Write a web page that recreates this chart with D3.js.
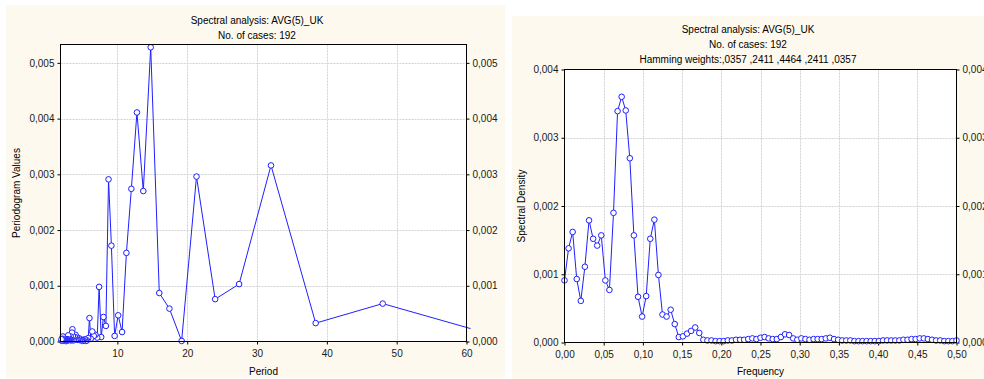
<!DOCTYPE html>
<html>
<head>
<meta charset="utf-8">
<script src="https://cdn.jsdelivr.net/npm/d3@7"></script>
<style>
  body { margin: 0; background: #ffffff; }
  svg { display: block; font-family: "Liberation Sans", Arial, sans-serif; }
</style>
</head>
<body>
<div id="chart"></div>
<script>
// Two STATISTICA style spectral plots, drawn side by side

// Periodogram (left): period for each harmonic and its value
const periods = [192, 96, 64, 48, 38.4, 32, 27.43, 24, 21.33, 19.2, 17.45, 16, 14.77, 13.71, 12.8, 12,
    11.29, 10.67, 10.11, 9.6, 9.14, 8.73, 8.35, 8, 7.68, 7.38, 7.11, 6.86, 6.62, 6.4, 6.19, 6,
    5.82, 5.65, 5.49, 5.33, 5.19, 5.05, 4.92, 4.8, 4.68, 4.57, 4.47, 4.36, 4.27, 4.17, 4.09, 4,
    3.92, 3.84, 3.76, 3.69, 3.62, 3.56, 3.49, 3.43, 3.37, 3.31, 3.25, 3.2, 3.15, 3.1, 3.05, 3,
    2.95, 2.91, 2.87, 2.82, 2.78, 2.74, 2.7, 2.67, 2.63, 2.59, 2.56, 2.53, 2.49, 2.46, 2.43, 2.4,
    2.37, 2.34, 2.31, 2.29, 2.26, 2.23, 2.21, 2.18, 2.16, 2.13, 2.11, 2.09, 2.06, 2.04, 2.02, 2];
const periodogram = [0.0015, 0.0027, 0.00011, 0.00068, 0.00033, 0.00316, 0.00103, 0.00076, 0.00296, 0.00001, 0.00059, 0.00087, 0.00528, 0.0027, 0.00411, 0.00274,
    0.00159, 0.00017, 0.00047, 0.0001, 0.00172, 0.00291, 0.00028, 0.00044, 0.00008, 0.00098, 0.00007, 0.00012, 0.0001, 0.00018, 0.00005, 0.00042,
    0.00006, 0.00002, 0.00001, 0.00004, 0.00002, 0.00001, 0.00003, 0.00002, 0.00004, 0.00003, 0.00006, 0.00003, 0.00005, 0.00008, 0.00004, 0.00012,
    0.00008, 0.00003, 0.00005, 0.00002, 0.0001, 0.00022, 0.00016, 0.00004, 0.00002, 0.00009, 0.00003, 0.00005, 0.00004, 0.00006, 0.00003, 0.00008,
    0.00011, 0.00004, 0.00002, 0.00003, 0.00004, 0.00001, 0.00003, 0.00002, 0.00001, 0.00003, 0.00002, 0.00001, 0.00002, 0.00004, 0.00002, 0.00003,
    0.00004, 0.00002, 0.00005, 0.00003, 0.00006, 0.00008, 0.00005, 0.00009, 0.00004, 0.00005, 0.00002, 0.00003, 0.00001, 0.00002, 0.00002, 0.00004];

// Spectral density (right), Hamming smoothed
const frequencies = [0, .0052, .0104, .0156, .0208, .026, .0313, .0365, .0417, .0469, .0521, .0573, .0625, .0677, .0729, .0781,
    .0833, .0885, .0938, .099, .1042, .1094, .1146, .1198, .125, .1302, .1354, .1406, .1458, .151, .1563, .1615,
    .1667, .1719, .1771, .1823, .1875, .1927, .1979, .2031, .2083, .2135, .2188, .224, .2292, .2344, .2396, .2448,
    .25, .2552, .2604, .2656, .2708, .276, .2813, .2865, .2917, .2969, .3021, .3073, .3125, .3177, .3229, .3281,
    .3333, .3385, .3438, .349, .3542, .3594, .3646, .3698, .375, .3802, .3854, .3906, .3958, .401, .4063, .4115,
    .4167, .4219, .4271, .4323, .4375, .4427, .4479, .4531, .4583, .4635, .4688, .474, .4792, .4844, .4896, .4948, .5];
const density = [0.00091, 0.00138, 0.00162, 0.00093, 0.00061, 0.00111, 0.00179, 0.00152, 0.00142, 0.00157, 0.00091, 0.00077, 0.0019, 0.00339, 0.0036, 0.0034,
    0.0027, 0.00157, 0.00067, 0.00038, 0.00068, 0.00152, 0.0018, 0.00099, 0.00041, 0.00038, 0.00048, 0.00027, 0.00008, 0.00009, 0.00013, 0.00017,
    0.00022, 0.00014, 0.00004, 0.00003, 0.00003, 0.00002, 0.00002, 0.00002, 0.00003, 0.00003, 0.00004, 0.00004, 0.00004, 0.00005, 0.00006, 0.00005,
    0.00007, 0.00008, 0.00006, 0.00005, 0.00005, 0.00008, 0.00012, 0.00011, 0.00006, 0.00004, 0.00006, 0.00005, 0.00004, 0.00005, 0.00005, 0.00005,
    0.00006, 0.00007, 0.00005, 0.00004, 0.00003, 0.00003, 0.00003, 0.00002, 0.00002, 0.00002, 0.00002, 0.00002, 0.00002, 0.00002, 0.00003, 0.00003,
    0.00003, 0.00003, 0.00003, 0.00004, 0.00004, 0.00005, 0.00005, 0.00006, 0.00006, 0.00005, 0.00004, 0.00003, 0.00003, 0.00002, 0.00002, 0.00002, 0.00003];

// Tick values and text
const periodTicks = [10, 20, 30, 40, 50, 60];
const periodogramTicks = [0, 0.001, 0.002, 0.003, 0.004, 0.005];
const freqTicks = [0, 0.05, 0.1, 0.15, 0.2, 0.25, 0.3, 0.35, 0.4, 0.45, 0.5];
const densityTicks = [0, 0.001, 0.002, 0.003, 0.004];
const leftTitles = ["Spectral analysis: AVG(5)_UK", "No. of cases: 192"];
const rightTitles = ["Spectral analysis: AVG(5)_UK", "No. of cases: 192", "Hamming weights:,0357 ,2411 ,4464 ,2411 ,0357"];

var width = 984;
var height = 379;
var panelColor = "#fdf9ee";
var lineColor = "#1f1fff";
var gridColor = "#d2d2d2";

// Comma decimal separator like the original
var locale = d3.formatLocale({ decimal: ",", thousands: ".", grouping: [3], currency: ["", ""] });
var fmt3 = locale.format(".3f");
var fmt2 = locale.format(".2f");

var svg = d3.select("#chart").append("svg")
    .attr("width", width)
    .attr("height", height);

var drawPanel = function (cfg) {
    // cream panel behind the plot
    svg.append("rect")
        .attr("x", cfg.panel[0]).attr("y", cfg.panel[1])
        .attr("width", cfg.panel[2]).attr("height", cfg.panel[3])
        .attr("fill", panelColor);

    const x = cfg.x, y = cfg.y;
    const [x0, x1] = x.range();
    const [y0, y1] = y.range();

    // white plot area
    svg.append("rect")
        .attr("x", x0).attr("y", y1)
        .attr("width", x1 - x0).attr("height", y0 - y1)
        .attr("fill", "#ffffff");

    // dotted grid
    var grid = svg.append("g");
    grid.selectAll(".vg")
        .data(cfg.xTicks.filter(d => x(d) > x0 + 1 && x(d) < x1 - 1))
        .enter().append("line")
        .attr("x1", d => Math.round(x(d)) + 0.5).attr("x2", d => Math.round(x(d)) + 0.5)
        .attr("y1", y1).attr("y2", y0)
        .attr("stroke", gridColor).attr("stroke-dasharray", "2,1");
    grid.selectAll(".hg")
        .data(cfg.yTicks.filter(d => y(d) < y0 - 1 && y(d) > y1 + 1))
        .enter().append("line")
        .attr("y1", d => Math.round(y(d)) + 0.5).attr("y2", d => Math.round(y(d)) + 0.5)
        .attr("x1", x0).attr("x2", x1)
        .attr("stroke", gridColor).attr("stroke-dasharray", "2,1");

    // axes on all four sides
    const styleAxis = g => {
        g.select(".domain").remove();
        g.selectAll("text").attr("font-size", "10px").attr("fill", "#1a1a1a").attr("font-family", "Liberation Sans, Arial, sans-serif");
        g.selectAll("line").attr("stroke", "#000");
    };
    svg.append("g")
        .attr("transform", `translate(0,${y0})`)
        .call(d3.axisBottom(x).tickValues(cfg.xTicks).tickFormat(cfg.xFormat).tickSize(3).tickPadding(5))
        .call(styleAxis);
    svg.append("g")
        .attr("transform", `translate(${x0},0)`)
        .call(d3.axisLeft(y).tickValues(cfg.yTicks).tickFormat(fmt3).tickSize(3).tickPadding(3))
        .call(styleAxis);
    svg.append("g")
        .attr("transform", `translate(${x1},0)`)
        .call(d3.axisRight(y).tickValues(cfg.yTicks).tickFormat(fmt3).tickSize(3).tickPadding(3))
        .call(styleAxis);

    // the series, clipped to the plot area
    svg.append("clipPath").attr("id", cfg.id)
        .append("rect")
        .attr("x", x0 - 4).attr("y", y1 - 4)
        .attr("width", x1 - x0 + 8).attr("height", y0 - y1 + 8);
    const pts = cfg.xs.map((d, i) => ({ x: d, v: cfg.vs[i] }));
    var series = svg.append("g").attr("clip-path", `url(#${cfg.id})`);
    var lineClip = series.append("g");
    lineClip.append("path")
        .datum(pts)
        .attr("fill", "none")
        .attr("stroke", lineColor)
        .attr("stroke-width", 1)
        .attr("d", d3.line().x(d => x(d.x)).y(d => y(d.v)));
    series.selectAll("circle")
        .data(pts.filter(d => x(d.x) <= x1 + 1))
        .enter().append("circle")
        .attr("cx", d => x(d.x))
        .attr("cy", d => y(d.v))
        .attr("r", 2.8)
        .attr("fill", "#ffffff")
        .attr("stroke", lineColor)
        .attr("stroke-width", 1);

    // border of the plot
    svg.append("rect")
        .attr("x", x0).attr("y", y1)
        .attr("width", x1 - x0).attr("height", y0 - y1)
        .attr("fill", "none").attr("stroke", "#000").attr("stroke-width", 1);

    // titles and axis names
    svg.append("g").selectAll("text")
        .data(cfg.titles)
        .enter().append("text")
        .attr("x", cfg.titleX)
        .attr("y", (d, i) => cfg.titleY + i * 15)
        .attr("text-anchor", "middle")
        .attr("font-size", "10px")
        .text(d => d);
    svg.append("text")
        .attr("x", (x0 + x1) / 2).attr("y", 375)
        .attr("text-anchor", "middle").attr("font-size", "10px")
        .text(cfg.xLabel);
    svg.append("text")
        .attr("transform", `translate(${cfg.yLabelX},${(y0 + y1) / 2}) rotate(-90)`)
        .attr("text-anchor", "middle").attr("font-size", "10px")
        .text(cfg.yLabel);
};

drawPanel({
    id: "clipLeft",
    panel: [6, 5, 499, 373],
    x: d3.scaleLinear().domain([1.85, 60]).range([60.5, 466.5]),
    y: d3.scaleLinear().domain([0, 0.00533]).range([341.5, 44.5]),
    xTicks: periodTicks,
    yTicks: periodogramTicks,
    xFormat: d3.format("d"),
    xs: periods,
    vs: periodogram,
    titles: leftTitles,
    titleX: 257,
    titleY: 23.5,
    xLabel: "Period",
    yLabel: "Periodogram Values",
    yLabelX: 20
});

drawPanel({
    id: "clipRight",
    panel: [512, 16, 472, 363],
    x: d3.scaleLinear().domain([0, 0.5]).range([564.5, 956.5]),
    y: d3.scaleLinear().domain([0, 0.004]).range([342.5, 69.5]),
    xTicks: freqTicks,
    yTicks: densityTicks,
    xFormat: fmt2,
    xs: frequencies,
    vs: density,
    titles: rightTitles,
    titleX: 748,
    titleY: 33,
    xLabel: "Frequency",
    yLabel: "Spectral Density",
    yLabelX: 525
});
</script>
</body>
</html>
